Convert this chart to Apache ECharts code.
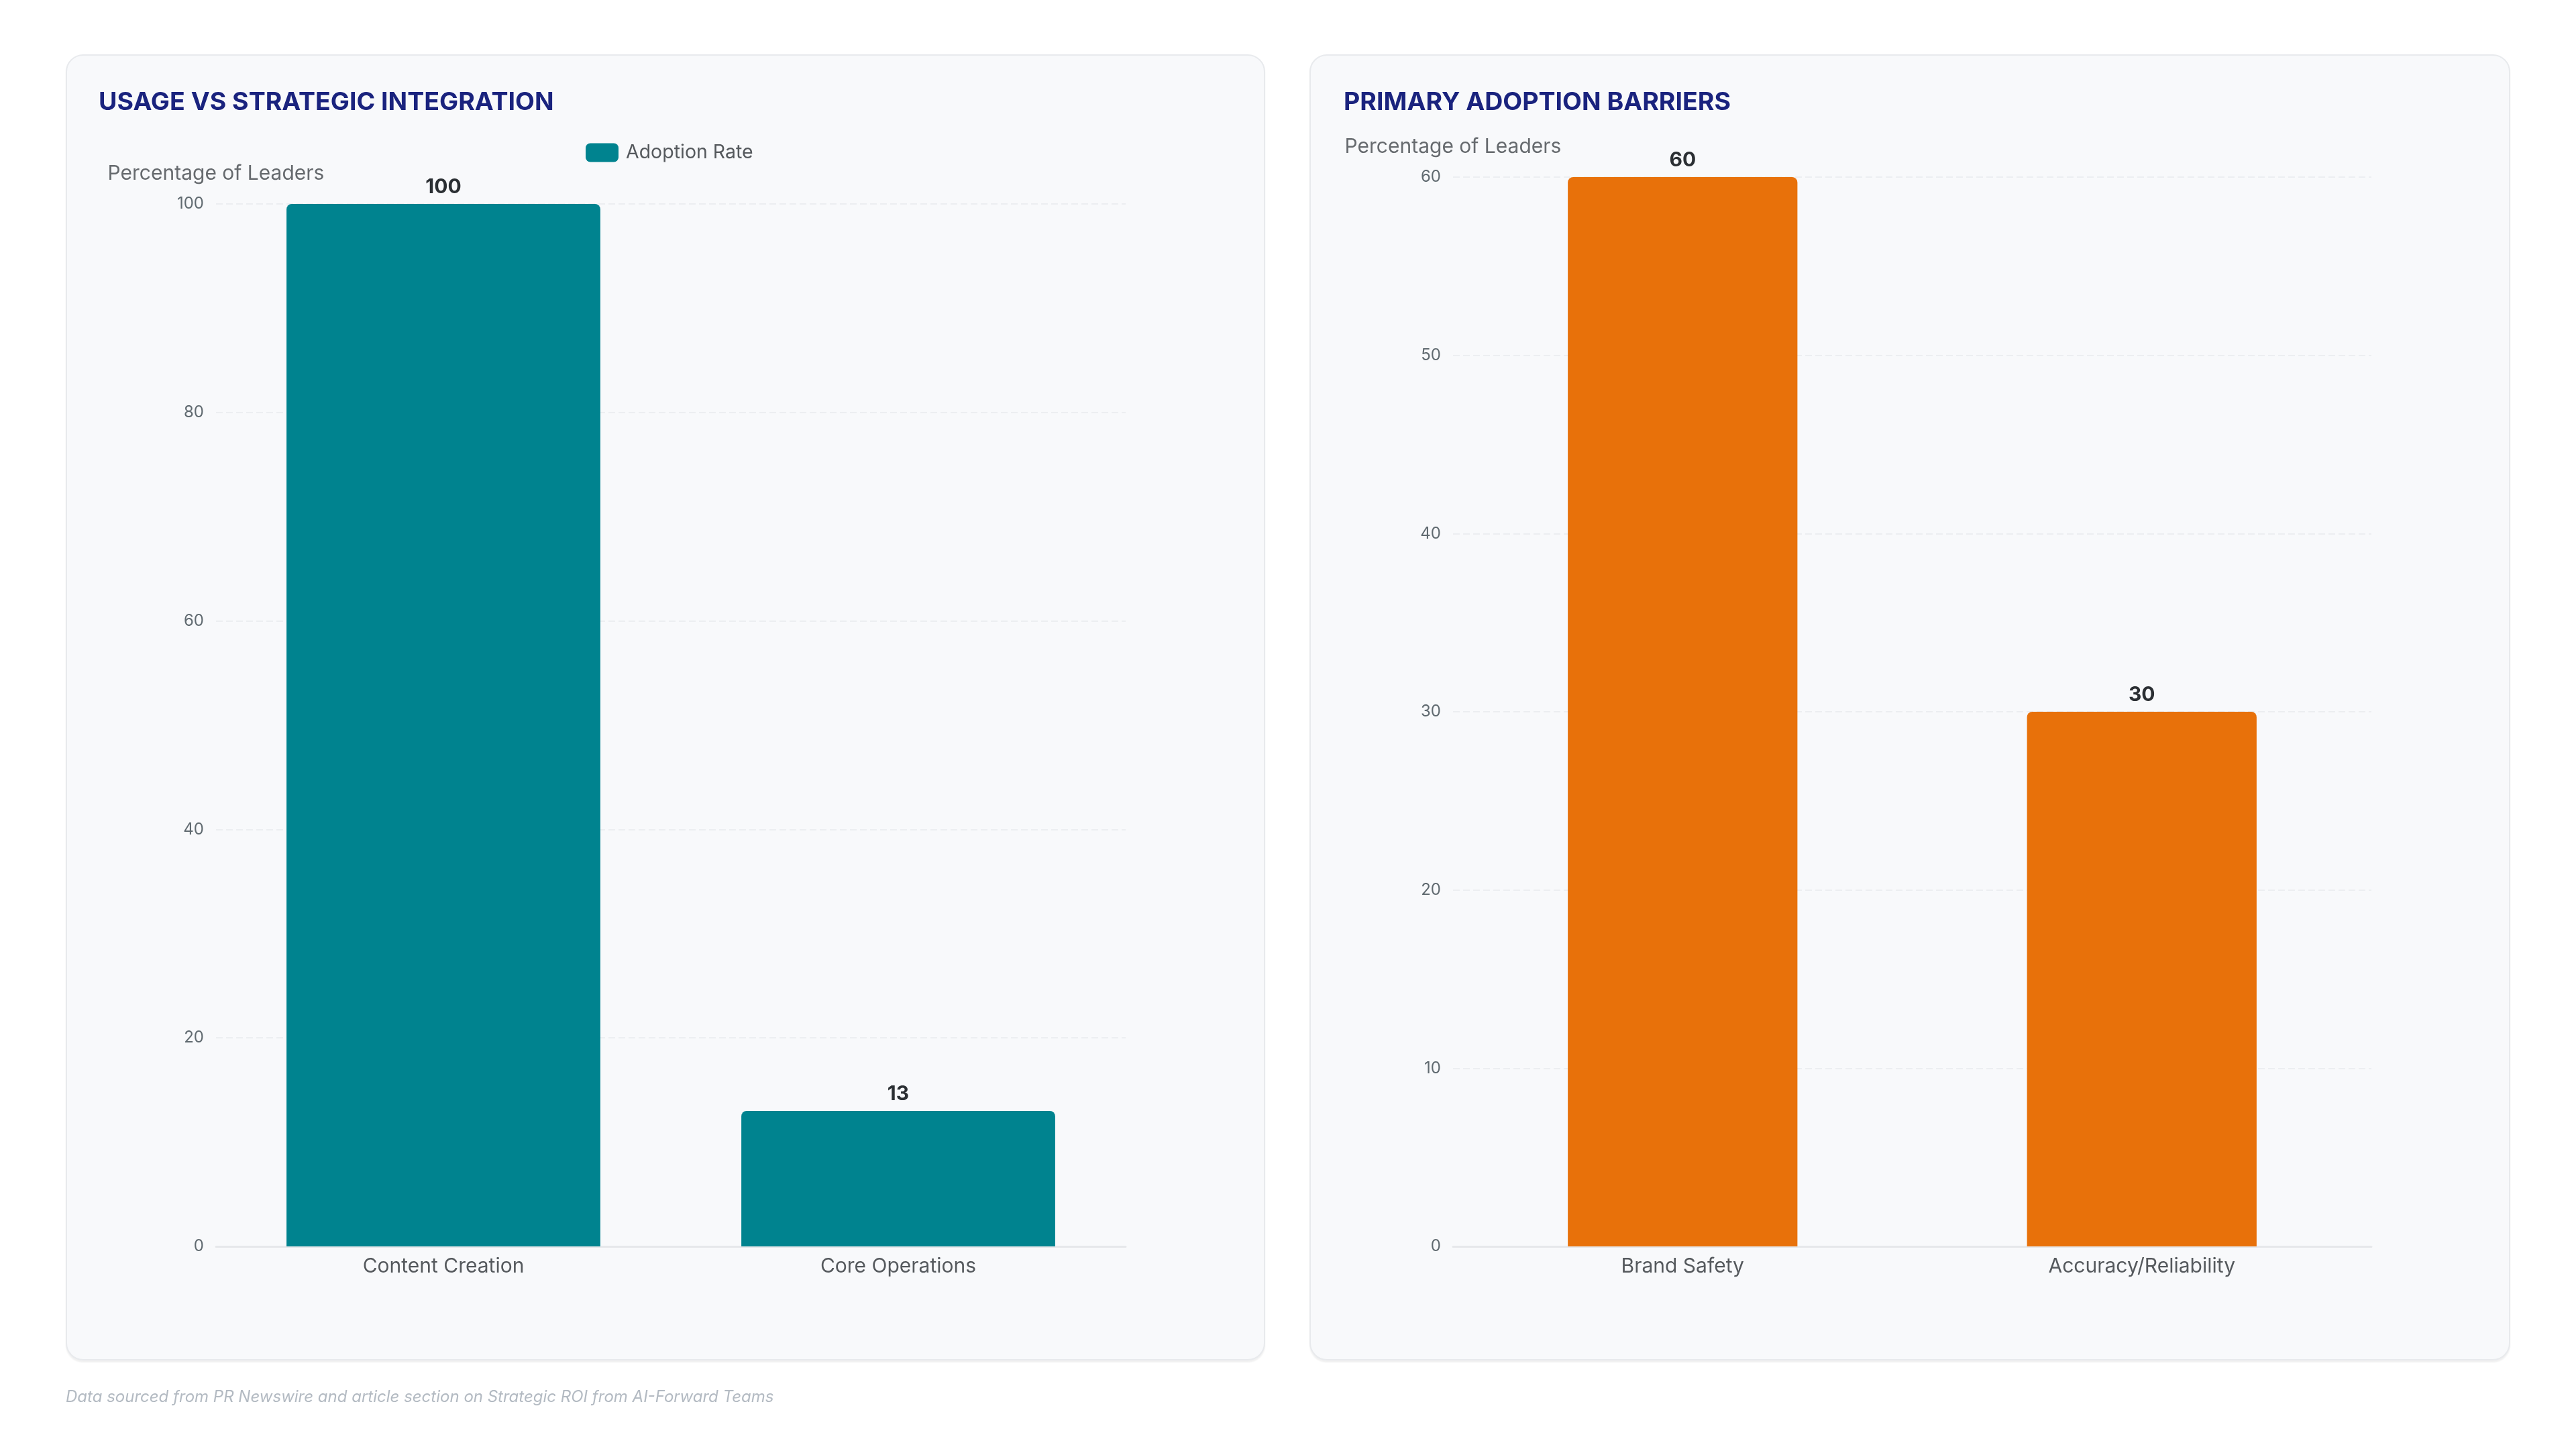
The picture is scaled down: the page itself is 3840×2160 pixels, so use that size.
<!DOCTYPE html>
<html>
<head>
<meta charset="utf-8">
<script src="https://cdn.jsdelivr.net/npm/echarts@6/dist/echarts.min.js"></script>
<style>
  html, body { margin: 0; padding: 0; background: #ffffff; width: 3840px; height: 2160px; overflow: hidden; font-family: Inter, "Noto Sans", sans-serif; }
  .card { position: absolute; top: 81px; height: 1947px; background: #f8f9fb; border: 2px solid #e8eaed; border-radius: 26px; box-shadow: 0 3px 2px rgba(0,0,0,0.06); box-sizing: border-box; }
  #chart { position: absolute; left: 0; top: 0; width: 3840px; height: 2160px; }
  #foot { position: absolute; left: 98px; top: 2067px; font-style: italic; font-size: 24px; color: #b3bac2; font-family: Inter, sans-serif; }
</style>
</head>
<body>
<div class="card" style="left:98px;width:1788px;"></div>
<div class="card" style="left:1952px;width:1790px;"></div>
<div id="chart"></div>
<div id="foot">Data sourced from PR Newswire and article section on Strategic ROI from AI-Forward Teams</div>
<script>
const usageTitle = 'USAGE VS STRATEGIC INTEGRATION';
const usageCategories = ['Content Creation', 'Core Operations'];
const usageValues = [100, 13];
const usageSeriesName = 'Adoption Rate';

const barrierTitle = 'PRIMARY ADOPTION BARRIERS';
const barrierCategories = ['Brand Safety', 'Accuracy/Reliability'];
const barrierValues = [60, 30];

const yAxisName = 'Percentage of Leaders';

const FONT = 'Inter, "Noto Sans", sans-serif';
const chart = echarts.init(document.getElementById('chart'), null, { renderer: 'canvas' });

function yAxisCfg(gridIndex, max, interval) {
  return {
    type: 'value', gridIndex, min: 0, max, interval,
    name: yAxisName, nameLocation: 'end', nameGap: 30,
    nameTextStyle: { color: '#666a6e', fontSize: 30, fontFamily: FONT },
    axisLine: { show: false }, axisTick: { show: false },
    axisLabel: { color: '#606a70', fontSize: 24, fontFamily: FONT, margin: 18 },
    splitLine: { lineStyle: { color: '#eceef1', width: 2, type: [10, 5] } }
  };
}
function xAxisCfg(gridIndex, data) {
  return {
    type: 'category', gridIndex, data,
    axisLine: { lineStyle: { color: '#e6e8eb', width: 3 } },
    axisTick: { show: false },
    axisLabel: { color: '#55595d', fontSize: 30, fontFamily: FONT, margin: 15 }
  };
}
const labelCfg = { show: true, position: 'top', distance: 10, color: '#2b2f33', fontSize: 30, fontWeight: 'bold', fontFamily: FONT };

chart.setOption({
  backgroundColor: 'transparent',
  animation: false,
  title: [
    { text: usageTitle, left: 142, top: 129, textStyle: { color: '#1a237e', fontSize: 37.5, fontWeight: 'bold', fontFamily: FONT } },
    { text: barrierTitle, left: 1998, top: 129, textStyle: { color: '#1a237e', fontSize: 37.5, fontWeight: 'bold', fontFamily: FONT } }
  ],
  legend: {
    data: [usageSeriesName], left: 868, top: 208, itemWidth: 49, itemHeight: 28, icon: 'roundRect',
    textStyle: { color: '#55595d', fontSize: 28.5, fontFamily: FONT, padding: [0, 0, 0, 6] }
  },
  grid: [
    { left: 322, right: 2162, top: 304, bottom: 302 },
    { left: 2166, right: 305, top: 264, bottom: 302 }
  ],
  xAxis: [xAxisCfg(0, usageCategories), xAxisCfg(1, barrierCategories)],
  yAxis: [yAxisCfg(0, 100, 20), yAxisCfg(1, 60, 10)],
  series: [
    { name: usageSeriesName, type: 'bar', xAxisIndex: 0, yAxisIndex: 0, data: usageValues, barWidth: '69%',
      itemStyle: { color: '#00838f', borderRadius: [8, 8, 0, 0] }, label: labelCfg },
    { name: 'Barriers', type: 'bar', xAxisIndex: 1, yAxisIndex: 1, data: barrierValues, barWidth: '50%',
      itemStyle: { color: '#e8710a', borderRadius: [8, 8, 0, 0] }, label: labelCfg }
  ]
});
</script>
</body>
</html>
